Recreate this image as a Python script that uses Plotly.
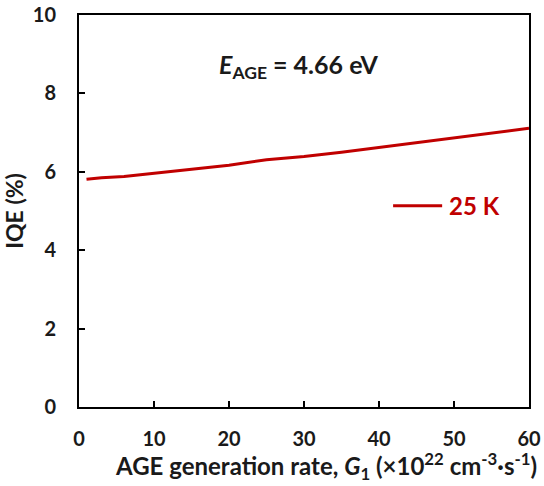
import plotly.graph_objects as go

# AGE generation rate G1 (x10^22 cm^-3 s^-1) and internal quantum efficiency (%)
g1_rate = [1, 3, 6, 10, 15, 20, 25, 28, 30, 35, 40, 45, 50, 55, 60]
iqe_25k = [5.81, 5.85, 5.88, 5.96, 6.06, 6.17, 6.31, 6.35, 6.39, 6.50, 6.62, 6.74, 6.86, 6.98, 7.11]

x_ticks = [0, 10, 20, 30, 40, 50, 60]
y_ticks = [0, 2, 4, 6, 8, 10]

FONT = "Lato"
RED = "#C00000"
INK = "#1a1a1a"

fig = go.Figure()
fig.add_trace(go.Scatter(
    x=g1_rate, y=iqe_25k, mode="lines", name="25 K",
    line=dict(color=RED, width=3), showlegend=False,
))

axis_common = dict(
    showline=True, linecolor="black", linewidth=2, mirror=True,
    ticks="inside", ticklen=6, tickwidth=2, tickcolor="black",
    showgrid=False, zeroline=False, automargin=False,
    tickfont=dict(family=FONT, size=20, color=INK, weight="bold"),
)

fig.update_layout(
    width=544, height=486,
    margin=dict(l=79, r=15, t=15, b=79),
    plot_bgcolor="white", paper_bgcolor="white",
    font=dict(family=FONT, color=INK),
    xaxis=dict(range=[0, 60], tickvals=x_ticks, ticklabelstandoff=13, **axis_common),
    yaxis=dict(range=[0, 10], tickvals=y_ticks, ticklabelstandoff=17,
               title=dict(text="<b>IQE (%)</b>",
                          font=dict(family=FONT, size=23, color=INK), standoff=4),
               **axis_common),
    shapes=[dict(
        type="line", xref="paper", yref="paper",
        x0=0.698, x1=0.807, y0=0.5135, y1=0.5135,
        line=dict(color=RED, width=3),
    )],
    annotations=[
        dict(x=0.488, y=0.918, xref="paper", yref="paper", showarrow=False,
             text="<b><i>E</i><sub>AGE</sub> = 4.66 eV</b>",
             font=dict(family=FONT, size=25, color=INK)),
        dict(x=0.818, y=0.5135, xref="paper", yref="paper", showarrow=False,
             xanchor="left", yanchor="middle", text="<b>25 K</b>",
             font=dict(family=FONT, size=24, color=RED)),
        dict(x=0.549, y=-0.15, xref="paper", yref="paper", showarrow=False,
             xanchor="center", yanchor="middle",
             text="<b>AGE generation rate, <i>G</i><sub>1</sub> (×10<sup>22</sup> cm<sup>-3</sup>·s<sup>-1</sup>)</b>",
             font=dict(family=FONT, size=24, color=INK)),
    ],
)

fig.write_html("out.html")
